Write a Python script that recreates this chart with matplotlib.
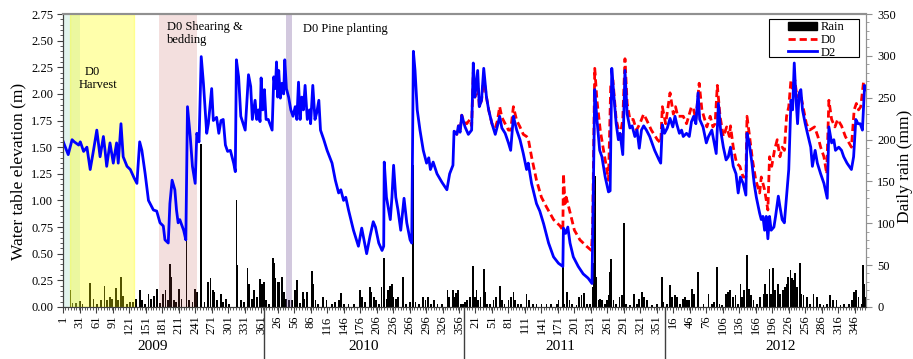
import numpy as np
import matplotlib
matplotlib.use('Agg')
import matplotlib.pyplot as plt
import matplotlib.transforms as mtransforms
from matplotlib.patches import Patch, Rectangle
from matplotlib.lines import Line2D
from matplotlib.ticker import MultipleLocator, FixedLocator, FormatStrFormatter

plt.rcParams['font.family'] = ['Liberation Serif', 'DejaVu Serif']

# water table, D2 (day counted from 1 Jan 2009, value in m)
d2_day = [1, 10, 17, 21, 29, 32, 38, 44, 50, 56, 62, 68, 74, 77, 80, 86, 92, 98, 101, 106,
          110, 117, 123, 130, 135, 140, 144, 150, 156, 165, 171, 177, 183, 186, 192, 195, 199,
          204, 207, 210, 213, 220, 224, 227, 232, 236, 241, 244, 248, 252, 256, 262, 265, 271,
          274, 280, 284, 288, 292, 296, 300, 305, 311, 314, 316, 320, 324, 332, 338, 342, 345,
          350, 353, 356, 359, 361, 364, 367, 370, 374, 381, 384, 387, 389, 391, 393, 396, 399,
          402, 404, 407, 411, 415, 419, 423, 426, 429, 432, 435, 438, 441, 445, 449, 451, 455,
          459, 462, 466, 469, 475, 481, 490, 496, 502, 506, 511, 515, 520, 529, 538, 544, 547,
          553, 559, 565, 569, 575, 581, 584, 585, 589, 596, 599, 602, 606, 610, 615, 621, 626,
          632, 635, 638, 641, 645, 650, 656, 662, 666, 669, 674, 681, 690, 699, 704, 710, 712,
          717, 720, 723, 726, 732, 738, 744, 747, 750, 755, 758, 762, 766, 771, 775, 781, 787,
          791, 795, 799, 805, 811, 815, 820, 826, 832, 838, 844, 847, 853, 862, 868, 875, 884,
          893, 902, 910, 911, 915, 919, 923, 929, 938, 947, 956, 963, 968, 972, 977, 981, 987,
          993, 996, 999, 1003, 1007, 1011, 1014, 1019, 1023, 1027, 1032, 1036, 1041, 1045, 1049,
          1053, 1057, 1062, 1068, 1077, 1085, 1088, 1091, 1095, 1100, 1105, 1110, 1114, 1117,
          1122, 1126, 1129, 1135, 1140, 1144, 1148, 1152, 1156, 1159, 1165, 1171, 1175, 1181,
          1185, 1189, 1193, 1197, 1202, 1207, 1211, 1215, 1220, 1225, 1229, 1233, 1238, 1243,
          1245, 1249, 1254, 1258, 1262, 1268, 1271, 1274, 1277, 1280, 1283, 1286, 1289, 1294,
          1297, 1302, 1305, 1309, 1313, 1317, 1321, 1325, 1328, 1331, 1334, 1337, 1340, 1343,
          1346, 1351, 1355, 1361, 1364, 1369, 1373, 1379, 1385, 1391, 1394, 1399, 1403, 1406,
          1412, 1417, 1421, 1427, 1435, 1439, 1443, 1447, 1451, 1455, 1459, 1461]
d2_wt = [1.55, 1.43, 1.57, 1.55, 1.52, 1.55, 1.46, 1.50, 1.29, 1.47, 1.66, 1.41, 1.60, 1.47, 1.32,
         1.54, 1.35, 1.54, 1.35, 1.72, 1.41, 1.32, 1.29, 1.21, 1.16, 1.55, 1.47, 1.25, 1.00, 0.91,
         0.90, 0.79, 0.76, 0.63, 0.60, 0.97, 1.19, 1.10, 0.91, 0.79, 0.82, 0.72, 0.63, 1.88, 1.60,
         1.32, 1.16, 1.63, 1.55, 2.35, 2.10, 1.63, 1.72, 2.05, 1.75, 1.78, 1.63, 1.75, 1.76, 1.52,
         1.46, 1.47, 1.35, 1.27, 2.32, 2.16, 1.79, 1.66, 2.18, 2.07, 1.76, 1.94, 1.76, 1.85, 1.74,
         2.15, 1.85, 2.04, 1.76, 1.76, 1.66, 2.16, 2.05, 2.30, 1.97, 2.22, 1.96, 2.10, 2.00, 2.32,
         2.05, 1.97, 1.85, 1.79, 1.88, 1.76, 2.11, 1.76, 1.97, 1.85, 2.08, 1.76, 1.85, 1.72, 2.08,
         1.76, 1.82, 1.94, 1.66, 1.57, 1.47, 1.35, 1.19, 1.07, 1.10, 1.00, 1.03, 0.91, 0.72, 0.57,
         0.74, 0.66, 0.50, 0.66, 0.80, 0.75, 0.60, 0.53, 0.57, 1.36, 1.03, 0.82, 1.03, 1.33, 1.03,
         0.91, 0.72, 1.02, 0.79, 0.63, 0.60, 2.40, 2.22, 1.85, 1.66, 1.47, 1.35, 1.40, 1.29, 1.36,
         1.25, 1.17, 1.10, 1.25, 1.33, 1.65, 1.62, 1.70, 1.64, 1.80, 1.69, 1.62, 1.66, 2.29, 1.97,
         2.22, 1.88, 1.94, 2.24, 1.97, 1.85, 1.72, 1.62, 1.70, 1.79, 1.68, 1.63, 1.54, 1.47, 1.79,
         1.66, 1.57, 1.44, 1.29, 1.35, 1.16, 0.97, 0.90, 0.78, 0.60, 0.47, 0.41, 0.38, 0.74, 0.69,
         0.75, 0.60, 0.47, 0.38, 0.31, 0.27, 0.22, 2.04, 1.76, 1.47, 1.41, 1.22, 1.08, 1.09, 2.24,
         1.97, 1.72, 1.57, 1.63, 1.43, 2.22, 1.81, 1.68, 1.70, 1.60, 1.66, 1.49, 1.66, 1.70, 1.66,
         1.60, 1.47, 1.38, 1.35, 1.71, 1.63, 1.68, 1.77, 1.69, 1.79, 1.72, 1.63, 1.66, 1.60, 1.63,
         1.60, 1.74, 1.79, 1.72, 2.01, 1.76, 1.69, 1.54, 1.60, 1.66, 1.55, 1.44, 1.91, 1.66, 1.50,
         1.38, 1.41, 1.50, 1.32, 1.25, 1.07, 1.22, 1.16, 1.05, 1.63, 1.54, 1.35, 1.16, 1.03, 0.88,
         0.82, 0.85, 0.72, 0.85, 0.64, 0.85, 0.72, 0.75, 0.85, 1.04, 0.94, 0.82, 0.79, 1.04, 1.29,
         1.94, 1.85, 2.29, 1.97, 1.72, 2.01, 2.04, 1.85, 1.72, 1.63, 1.50, 1.32, 1.47, 1.35, 1.25,
         1.16, 1.02, 1.69, 1.54, 1.57, 1.47, 1.50, 1.47, 1.41, 1.35, 1.29, 1.41, 1.76, 1.72, 1.72,
         1.66, 2.08, 2.04]

# water table, D0 (only where it departs from D2)
d0_day = [712, 717, 720, 723, 726, 729, 735, 741, 744, 747, 750, 755, 758, 762, 766, 771, 775,
          781, 787, 791, 795, 799, 805, 811, 815, 820, 826, 832, 838, 844, 847, 853, 862, 871,
          877, 880, 893, 905, 910, 911, 914, 916, 922, 931, 941, 953, 962, 964, 968, 972, 978,
          984, 990, 993, 997, 1001, 1007, 1014, 1019, 1023, 1027, 1032, 1038, 1044, 1050, 1057,
          1062, 1071, 1082, 1088, 1091, 1097, 1105, 1111, 1115, 1119, 1129, 1135, 1144, 1148,
          1152, 1158, 1163, 1168, 1172, 1178, 1183, 1187, 1191, 1196, 1202, 1208, 1213, 1215,
          1220, 1226, 1232, 1238, 1243, 1245, 1249, 1255, 1261, 1268, 1271, 1277, 1283, 1286,
          1290, 1295, 1300, 1305, 1309, 1313, 1317, 1321, 1325, 1329, 1332, 1336, 1342, 1348,
          1353, 1359, 1368, 1374, 1379, 1385, 1390, 1394, 1399, 1405, 1410, 1417, 1424, 1435,
          1440, 1444, 1448, 1452, 1457, 1461]
d0_wt = [1.65, 1.62, 1.70, 1.64, 1.80, 1.75, 1.72, 1.76, 1.70, 2.20, 1.97, 2.10, 1.88, 1.94, 2.15,
         1.97, 1.85, 1.72, 1.68, 1.75, 1.88, 1.78, 1.72, 1.66, 1.66, 1.88, 1.75, 1.69, 1.62, 1.60,
         1.58, 1.41, 1.19, 1.03, 0.97, 0.94, 0.82, 0.76, 0.72, 1.25, 0.97, 1.03, 0.91, 0.72, 0.63,
         0.57, 0.53, 0.72, 2.24, 1.94, 1.66, 1.47, 1.29, 1.19, 2.07, 2.13, 1.76, 1.60, 1.76, 2.33,
         1.91, 1.76, 1.76, 1.66, 1.72, 1.81, 1.76, 1.66, 1.57, 1.54, 1.88, 1.72, 2.01, 1.81, 1.88,
         1.79, 1.79, 1.72, 1.88, 1.85, 1.76, 2.10, 1.85, 1.76, 1.69, 1.79, 1.69, 1.72, 2.08, 1.79,
         1.60, 1.69, 1.60, 1.70, 1.50, 1.35, 1.32, 1.22, 1.22, 1.79, 1.63, 1.38, 1.19, 1.07, 1.22,
         1.10, 0.91, 1.41, 1.32, 1.47, 1.57, 1.41, 1.50, 1.47, 1.79, 1.88, 2.13, 2.04, 2.13, 1.97,
         2.01, 1.85, 1.72, 1.66, 1.69, 1.60, 1.50, 1.41, 1.25, 1.94, 1.76, 1.69, 1.76, 1.70, 1.60,
         1.50, 1.85, 1.91, 1.85, 1.88, 2.11, 2.08]

# daily rain (mm), days without an entry had no rain
rain_day = [14, 18, 24, 32, 36, 50, 56, 62, 70, 76, 80, 86, 90, 97, 101, 106, 110, 117, 123, 128,
            134, 140, 144, 150, 156, 160, 166, 172, 177, 182, 187, 191, 195, 198, 202, 206, 212,
            216, 225, 230, 236, 241, 244, 252, 258, 265, 269, 273, 276, 281, 288, 292, 297, 303,
            316, 318, 324, 330, 336, 339, 344, 348, 353, 359, 362,
            366, 370, 375, 382, 384, 387, 391, 394, 399, 402, 406, 412, 417, 423, 426, 432, 437,
            440, 444, 453, 456, 460, 465, 474, 480, 490, 496, 502, 506, 512, 520, 530, 541, 544,
            550, 559, 562, 566, 570, 575, 580, 585, 589, 592, 596, 599, 602, 606, 610, 619, 625,
            632, 638, 642, 648, 656, 660, 664, 670, 676, 682, 690, 700, 703, 710, 713, 716, 719,
            724, 728,
            732, 736, 741, 747, 750, 753, 756, 760, 766, 769, 772, 778, 784, 788, 795, 799, 804,
            811, 815, 820, 823, 828, 834, 844, 848, 856, 862, 871, 880, 889, 899, 902, 910, 912,
            918, 922, 926, 935, 940, 944, 948, 954, 960, 964, 966, 968, 971, 975, 978, 981, 987,
            990, 993, 995, 998, 1002, 1007, 1013, 1017, 1021, 1025, 1032, 1039, 1045, 1049, 1054,
            1058, 1063, 1072, 1081, 1090, 1093,
            1099, 1105, 1108, 1114, 1117, 1123, 1129, 1132, 1136, 1140, 1145, 1149, 1156, 1166,
            1175, 1181, 1185, 1191, 1195, 1199, 1207, 1211, 1214, 1220, 1224, 1228, 1233, 1236,
            1239, 1245, 1248, 1252, 1257, 1263, 1269, 1275, 1278, 1281, 1286, 1288, 1292, 1296,
            1301, 1305, 1310, 1314, 1317, 1320, 1324, 1327, 1330, 1333, 1336, 1341, 1343, 1348,
            1354, 1360, 1366, 1372, 1378, 1384, 1390, 1396, 1402, 1408, 1415, 1421, 1430, 1436,
            1440, 1444, 1448, 1454, 1456, 1458, 1461]
rain_mm = [20, 5, 5, 7, 4, 29, 10, 4, 8, 25, 8, 12, 10, 23, 8, 36, 13, 3, 6, 6,
           9, 20, 8, 3, 15, 10, 13, 21, 5, 16, 20, 8, 51, 36, 8, 6, 22,
           10, 82, 8, 6, 22, 18, 195, 6, 30, 35, 20, 18, 8, 15, 6, 10, 4,
           128, 50, 8, 6, 46, 28, 10, 20, 12, 33, 28,
           30, 8, 4, 58, 52, 34, 30, 30, 36, 18, 10, 8, 8, 20, 32, 5, 18,
           10, 18, 43, 28, 8, 4, 12, 8, 4, 6, 8, 17, 4, 4, 4, 20, 12,
           6, 24, 18, 12, 8, 4, 24, 59, 10, 20, 25, 27, 12, 10, 12, 36, 4,
           6, 170, 6, 3, 12, 8, 12, 3, 8, 3, 4, 20, 12, 20, 12, 17, 20,
           4, 4,
           6, 8, 12, 49, 12, 20, 8, 12, 45, 18, 4, 4, 8, 12, 25, 8, 4,
           8, 12, 18, 8, 4, 4, 15, 8, 3, 4, 3, 3, 3, 4, 8, 48, 4,
           18, 8, 4, 2, 12, 14, 17, 4, 4, 24, 52, 156, 36, 8, 10, 8, 4,
           8, 14, 42, 57, 8, 4, 12, 14, 100, 4, 2, 16, 4, 10, 18,
           12, 8, 2, 4, 36, 6,
           4, 26, 12, 14, 12, 4, 10, 12, 8, 8, 22, 16, 42, 4,
           16, 4, 6, 48, 4, 2, 16, 18, 20, 12, 14, 4, 27, 12,
           20, 62, 22, 14, 8, 4, 12, 16, 28, 16, 45, 16, 46, 20,
           28, 16, 20, 24, 28, 36, 44, 34, 32, 40, 24, 53, 16, 14,
           12, 4, 16, 12, 4, 2, 4, 14, 8, 8, 2, 4, 4, 8,
           18, 20, 12, 4, 50, 28, 12]

tick_days = list(range(1, 1462, 30))
tick_labels = ['1', '31', '61', '91', '121', '151', '181', '211', '241', '271', '301', '331', '361',
               '26', '56', '86', '116', '146', '176', '206', '236', '266', '296', '326', '356',
               '21', '51', '81', '111', '141', '171', '201', '231', '261', '291', '321', '351',
               '16', '46', '76', '106', '136', '166', '196', '226', '256', '286', '316', '346']
years = ['2009', '2010', '2011', '2012']
year_end = [365.5, 730.5, 1095.5]
year_mid = [163, 548, 906, 1306]

fig = plt.figure(figsize=(9.13, 3.59), dpi=100)
ax = fig.add_axes([0.069, 0.145, 0.8795, 0.816])   # rain, right axis
ax2 = ax.twinx()                                    # water table, left axis

ax.bar(rain_day, rain_mm, width=3.2, color='black', lw=0, zorder=1)

# management periods (shaded over the rain bars)
ax.axvspan(1, 32, color='#7FD0B0', alpha=0.22, lw=0, zorder=2)
ax.axvspan(13.7, 130.2, facecolor='#FFFF00', alpha=0.33, edgecolor='#FFFF00', lw=1, zorder=2)
ax.axvspan(175.6, 244.2, color='#C0504D', alpha=0.18, lw=0, zorder=2)
ax.axvspan(406, 418, color='#8064A2', alpha=0.35, lw=0, zorder=2)

ax2.plot(d0_day, d0_wt, color='red', ls=(0, (2.6, 1.4)), lw=2.0)
ax2.plot(d2_day, d2_wt, color='blue', lw=2.0)

ax.set_xlim(0.5, 1461.5)
ax.set_ylim(0, 350)
ax2.set_ylim(0, 2.75)

ax.yaxis.tick_right()
ax.yaxis.set_label_position('right')
ax2.yaxis.tick_left()
ax2.yaxis.set_label_position('left')

ax.yaxis.set_major_locator(MultipleLocator(50))
ax.yaxis.set_minor_locator(MultipleLocator(10))
ax2.yaxis.set_major_locator(MultipleLocator(0.25))
ax2.yaxis.set_minor_locator(MultipleLocator(0.05))
ax2.yaxis.set_major_formatter(FormatStrFormatter('%.2f'))

ax.xaxis.set_major_locator(FixedLocator(tick_days))
ax.set_xticklabels(tick_labels, rotation=90, fontsize=9)
ax.xaxis.set_minor_locator(MultipleLocator(5))
ax.tick_params(axis='x', which='major', length=4, width=0.8, color='#404040', pad=2)
ax.tick_params(axis='x', which='minor', length=2, width=0.6, color='#404040')
ax.tick_params(axis='y', which='major', labelsize=9, length=4, color='#909090', pad=4)
ax.tick_params(axis='y', which='minor', length=2, color='#909090')
ax2.tick_params(axis='y', which='major', labelsize=9, length=4, color='#404040', pad=3)
ax2.tick_params(axis='y', which='minor', length=2, color='#404040')

for a in (ax, ax2):
    a.spines['top'].set_color('#909090')
    a.spines['top'].set_linewidth(1.5)
    a.spines['right'].set_color('#909090')
    a.spines['left'].set_color('#404040')
    a.spines['bottom'].set_color('#404040')

ax2.set_ylabel('Water table elevation (m)', fontsize=12.5)
ax2.yaxis.set_label_coords(-0.046, 0.464)
ax.set_ylabel('Daily rain (mm)', fontsize=12.5)
ax.yaxis.set_label_coords(1.0386, 0.48)

trans = mtransforms.blended_transform_factory(ax.transData, ax.transAxes)
for x in year_end:
    ax.plot([x, x], [0, -0.18], transform=trans, color='#404040', lw=1, clip_on=False)
for x, y in zip(year_mid, years):
    ax.text(x, -0.135, y, transform=trans, ha='center', va='center', fontsize=11)

ax2.text(40, 2.21, 'D0', fontsize=9, va='center')
ax2.text(29, 2.08, 'Harvest', fontsize=9, va='center')
ax2.text(190, 2.57, 'D0 Shearing &\nbedding', fontsize=9, va='center', linespacing=1.15)
ax2.text(437, 2.61, 'D0 Pine planting', fontsize=9, va='center')

# legend: entries without frame, plus a wider frame as in the original
handles = [Patch(facecolor='black', edgecolor='black'),
           Line2D([], [], color='red', ls=(0, (2.6, 1.4)), lw=2.0),
           Line2D([], [], color='blue', lw=2.0)]
leg = ax2.legend(handles, ['Rain', 'D0', 'D2'], loc='upper left', bbox_to_anchor=(0.9, 0.983),
                 borderaxespad=0, fontsize=9, frameon=False,
                 handlelength=2.3, labelspacing=0.05, borderpad=0.2, handletextpad=0.3)
ax2.add_patch(Rectangle((0.879, 0.853), 0.112, 0.13, transform=ax2.transAxes,
                        facecolor='none', edgecolor='black', lw=0.8, zorder=5))

fig.savefig('out.png', dpi=100)
